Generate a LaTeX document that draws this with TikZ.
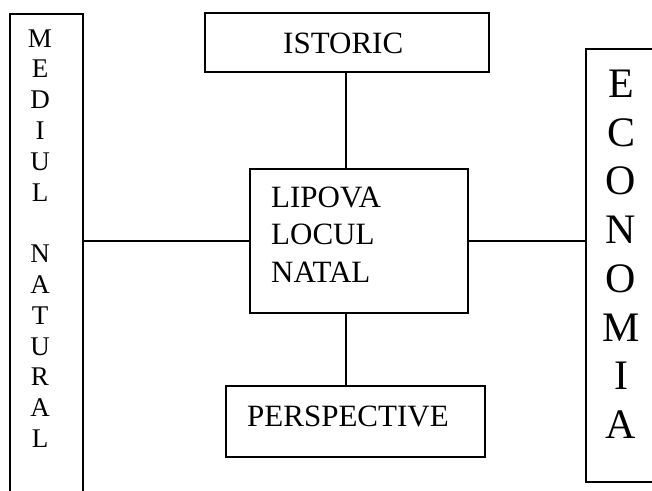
\documentclass[tikz,border=0pt]{standalone}
\usepackage{fontspec}
\setmainfont{Liberation Serif}
\usetikzlibrary{positioning}

\begin{document}
\begin{tikzpicture}[x=1pt, y=-1pt,
  box/.style={draw, line width=1.6pt, inner sep=0pt},
  link/.style={line width=1.6pt},
  word/.style={font=\fontsize{31}{37}\selectfont, inner sep=0pt, anchor=base west},
  tall/.style={font=\fontsize{27}{31}\selectfont, inner sep=0pt, anchor=base},
  big/.style={font=\fontsize{42}{48}\selectfont, inner sep=0pt, anchor=base}]
  \def\stepl{30.8}
  \def\stepe{48.7}

  \useasboundingbox (0,0) rectangle (652,490);
  \clip (0,0) rectangle (652,490);

  % boxes
  \node[box, anchor=north west, minimum width=73pt, minimum height=520pt] (mediu) at (9,13) {};
  \node[box, anchor=north west, minimum width=150pt, minimum height=433pt] (economia) at (585,48) {};
  \node[box, anchor=north west, minimum width=284pt, minimum height=59pt] (istoric) at (204,12) {};
  \node[box, anchor=north west, minimum width=218pt, minimum height=144pt] (lipova) at (249,168) {};
  \node[box, anchor=north west, minimum width=259pt, minimum height=71pt] (persp) at (225,385) {};

  % texts
  \node[word] (istorictext) at (283,53) {ISTORIC};
  \node[word] (lipova1) at (271,207) {LIPOVA};
  \node[word] (lipova2) at (271,244.5) {LOCUL};
  \node[word] (lipova3) at (271,282) {NATAL};
  \node[word] (persptext) at (247,426) {PERSPECTIVE};

  \foreach \l [count=\i from 0] in {M,E,D,I,U,L}
    \node[tall] (mediu\i) at (40,{47+\i*\stepl}) {\l};
  \foreach \l [count=\i from 7] in {N,A,T,U,R,A,L}
    \node[tall] (mediu\i) at (40,{47+\i*\stepl}) {\l};
  \foreach \l [count=\i from 0] in {E,C,O,N,O,M,I,A}
    \node[big] (economia\i) at (621,{97.5+\i*\stepe}) {\l};

  % links
  \coordinate (axis) at (346,0);
  \draw[link] (lipova.west) -- (lipova.west -| mediu.east);
  \draw[link] (lipova.east) -- (lipova.east -| economia.west);
  \draw[link] (axis |- istoric.south) -- (axis |- lipova.north);
  \draw[link] (axis |- lipova.south) -- (axis |- persp.north);
\end{tikzpicture}
\end{document}
